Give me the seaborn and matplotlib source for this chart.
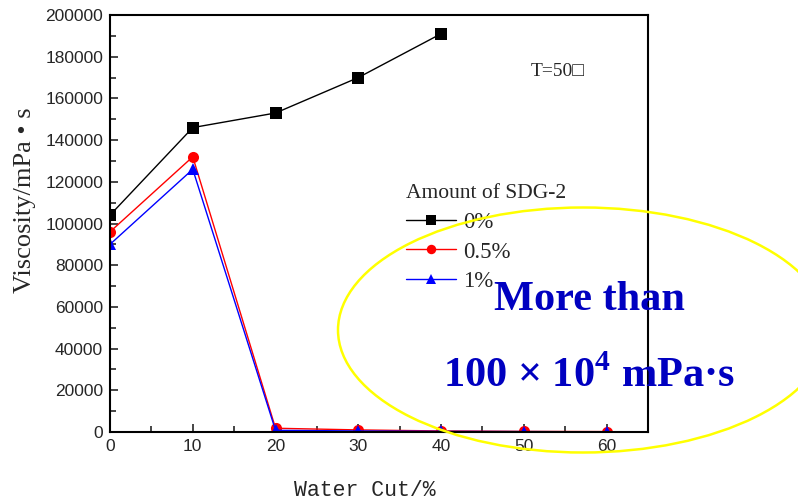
import matplotlib
matplotlib.use("Agg")
import matplotlib.pyplot as plt
import seaborn as sns
import pandas as pd
from matplotlib.patches import Ellipse
from matplotlib.ticker import MultipleLocator

water_cut_0 = [0, 10, 20, 30, 40]
visc_0 = [104000, 146000, 153000, 170000, 191000]
water_cut_05 = [0, 10, 20, 30, 40, 50, 60]
visc_05 = [96000, 132000, 1800, 1000, 500, 300, 200]
water_cut_1 = [0, 10, 20, 30, 40, 50, 60]
visc_1 = [90000, 126000, 800, 500, 300, 200, 100]
labels = ["0%", "0.5%", "1%"]
colors = ["black", "red", "blue"]
markers = ["s", "o", "^"]

frames = []
for xs, ys, lab in [(water_cut_0, visc_0, labels[0]),
                    (water_cut_05, visc_05, labels[1]),
                    (water_cut_1, visc_1, labels[2])]:
    frames.append(pd.DataFrame({"x": xs, "y": ys, "s": lab}))
df = pd.concat(frames, ignore_index=True)

sns.set_style("ticks")
plt.rcParams["mathtext.fontset"] = "custom"
plt.rcParams["mathtext.rm"] = "Liberation Serif"
plt.rcParams["mathtext.bf"] = "Liberation Serif:bold"

fig = plt.figure(figsize=(7.98, 5.01), dpi=100)
ax = fig.add_axes([110/798, 1-432/501, 538/798, 417/501])

for lab, c, m in zip(labels, colors, markers):
    sub = df[df.s == lab]
    sns.lineplot(data=sub, x="x", y="y", ax=ax, color=c, marker=m,
                 markersize=8, markeredgewidth=0, linewidth=1, label=lab)

ax.set_xlim(0, 65)
ax.set_ylim(0, 200000)
ax.xaxis.set_major_locator(MultipleLocator(10))
ax.xaxis.set_minor_locator(MultipleLocator(5))
ax.yaxis.set_major_locator(MultipleLocator(20000))
ax.yaxis.set_minor_locator(MultipleLocator(10000))
ax.tick_params(axis="both", which="both", direction="in", top=False, right=False)
ax.tick_params(which="major", length=6, width=1.2, pad=5)
ax.tick_params(which="minor", length=4, width=1.2)
for lbl in ax.get_xticklabels() + ax.get_yticklabels():
    lbl.set_fontfamily("Liberation Sans")
    lbl.set_fontsize(12.5)
for sp in ax.spines.values():
    sp.set_linewidth(1.5)
    sp.set_color("black")
    sp.set_visible(True)

ax.set_xlabel("Water Cut/%", family="Liberation Mono", fontsize=15.5)
ax.xaxis.set_label_coords((365-110)/538, -(490-432)/417)
ax.xaxis.label.set_va("center")
ax.set_ylabel("Viscosity/mPa • s", family="Liberation Serif", fontsize=19)
ax.yaxis.set_label_coords(-(110-25)/538, (432-200)/417)
ax.yaxis.label.set_va("center")

ax.text((531-110)/538, (432-72)/417, "T=50□", transform=ax.transAxes,
        family="Liberation Serif", fontsize=14, va="center")

leg = ax.legend(title="Amount of SDG-2", loc="upper left",
                bbox_to_anchor=((406-110)/538, (432-184)/417), frameon=False,
                prop={"family": "Liberation Serif", "size": 16.5},
                title_fontproperties={"family": "Liberation Serif", "size": 15.5},
                handlelength=2.2, handletextpad=0.3, labelspacing=0.38,
                markerscale=0.85, borderaxespad=0, borderpad=0)
leg._legend_box.align = "left"

ell = Ellipse((583/798, 1-330/501), 490/798, 245/501, transform=fig.transFigure,
              fill=False, edgecolor="yellow", linewidth=1.8, clip_on=False)
fig.add_artist(ell)

fig.text(589/798, 1-300/501, "More than", ha="center", va="center",
         family="Liberation Serif", weight="bold", fontsize=30.5, color="#0000C0")
fig.text(589/798, 1-376/501, r"100 × 10$^{\mathbf{4}}$ mPa·s", ha="center",
         va="center", family="Liberation Serif", weight="bold", fontsize=30.5,
         color="#0000C0")

fig.savefig("out.png", dpi=100)
